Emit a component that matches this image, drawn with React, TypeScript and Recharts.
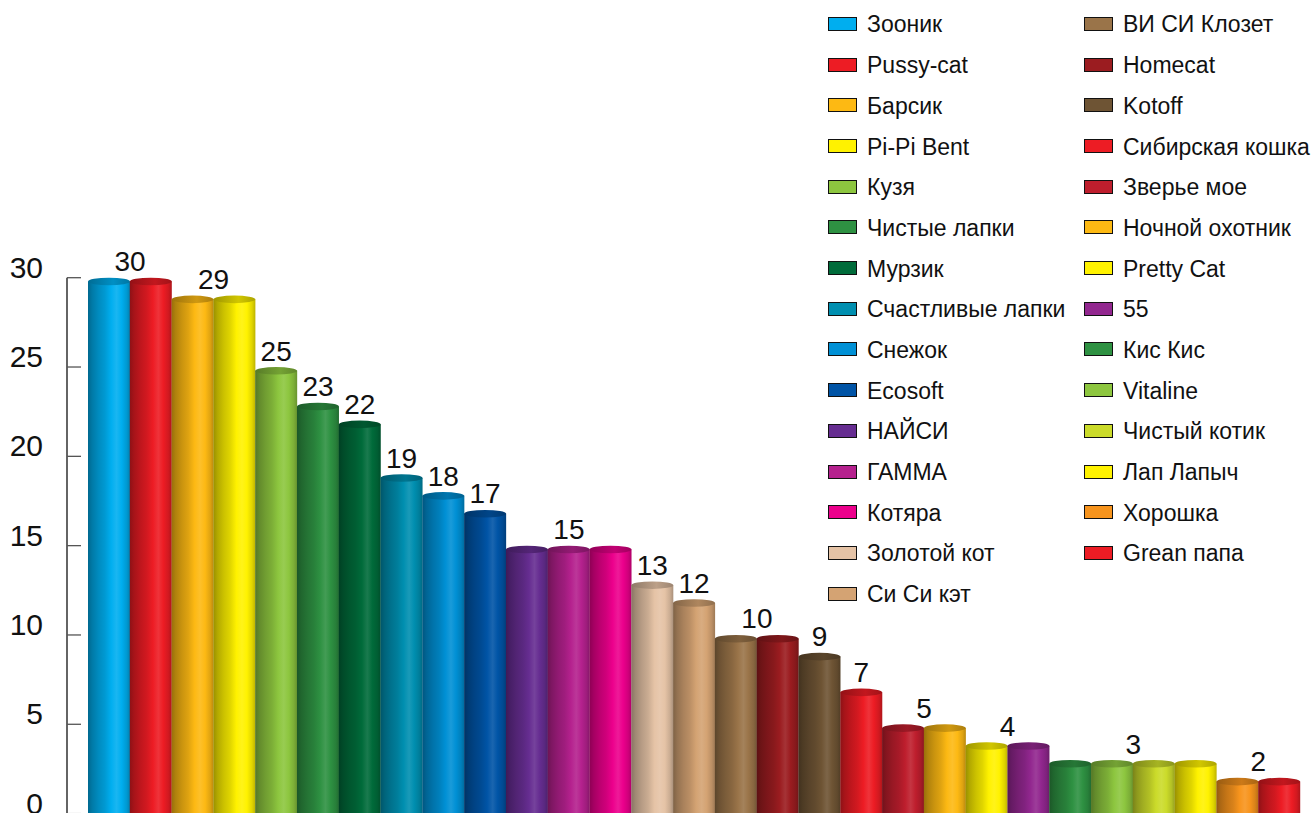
import React from 'react';
import { BarChart, Bar, XAxis, YAxis, LabelList } from 'recharts';

// brands, in bar order (left column of legend first, then right column)
const brands = [
  'Зооник', 'Pussy-cat', 'Барсик', 'Pi-Pi Bent', 'Кузя', 'Чистые лапки', 'Мурзик',
  'Счастливые лапки', 'Снежок', 'Ecosoft', 'НАЙСИ', 'ГАММА', 'Котяра', 'Золотой кот',
  'Си Си кэт', 'ВИ СИ Клозет', 'Homecat', 'Kotoff', 'Сибирская кошка', 'Зверье мое',
  'Ночной охотник', 'Pretty Cat', '55', 'Кис Кис', 'Vitaline', 'Чистый котик',
  'Лап Лапыч', 'Хорошка', 'Grean папа',
];

const shares = [30, 30, 29, 29, 25, 23, 22, 19, 18, 17, 15, 15, 15, 13, 12, 10, 10, 9, 7, 5, 5, 4, 4, 3, 3, 3, 3, 2, 2];

const colors = [
  '#00aeef', '#ed1c24', '#fdb913', '#fff200', '#8dc63f', '#2e9142', '#006b3a',
  '#008fb0', '#0090d5', '#0054a6', '#662d91', '#b5218e', '#ec008c', '#e5c3a6',
  '#d4a373', '#9a7449', '#9b1c20', '#6e5434', '#ed1c24', '#be1e2d',
  '#fdb913', '#fff200', '#92278f', '#2e9142', '#8dc63f', '#cbdb2a',
  '#fff200', '#f7941d', '#ed1c24',
];

const yTicks = [0, 5, 10, 15, 20, 25, 30];

const data = brands.map((name, i) => ({ name, value: shares[i], color: colors[i] }));

const FONT = '"Liberation Sans", Arial, Helvetica, sans-serif';

function mix(hex: string, k: number) {
  // k < 1 darkens towards black, k > 1 lightens towards white
  const n = parseInt(hex.slice(1), 16);
  let r = (n >> 16) & 255, g = (n >> 8) & 255, b = n & 255;
  if (k <= 1) {
    r *= k; g *= k; b *= k;
  } else {
    const t = k - 1;
    r += (255 - r) * t; g += (255 - g) * t; b += (255 - b) * t;
  }
  const h = (v: number) => Math.round(Math.max(0, Math.min(255, v))).toString(16).padStart(2, '0');
  return '#' + h(r) + h(g) + h(b);
}

const stops: [number, number][] = [
  [0, 0.6], [0.1, 0.7], [0.25, 0.8], [0.4, 0.88], [0.55, 1],
  [0.68, 1.1], [0.8, 1], [0.92, 0.88], [1, 0.74],
];

function Cylinder(props: any) {
  const { x, y, width, height, index } = props;
  if (!height || height <= 0) return null;
  const color = props.payload?.color ?? colors[index];
  const id = 'cyl' + index;
  const ry = 3.8;
  return (
    <g>
      <defs>
        <linearGradient id={id} x1="0" y1="0" x2="1" y2="0">
          {stops.map(([o, k]) => (
            <stop key={o} offset={o} stopColor={mix(color, k)} />
          ))}
        </linearGradient>
        <linearGradient id={id + 't'} x1="0" y1="0" x2="1" y2="0">
          <stop offset={0} stopColor={mix(color, 0.62)} />
          <stop offset={0.6} stopColor={mix(color, 0.82)} />
          <stop offset={1} stopColor={mix(color, 0.68)} />
        </linearGradient>
      </defs>
      <rect x={x} y={y + ry} width={width} height={height - ry + 20} fill={`url(#${id})`} />
      <ellipse cx={x + width / 2} cy={y + ry} rx={width / 2} ry={ry} fill={`url(#${id}t)`} />
    </g>
  );
}

function GroupLabel(props: any) {
  const { x, y, width, value, index } = props;
  if (index > 0 && shares[index - 1] === shares[index]) return null;
  let n = 1;
  while (index + n < shares.length && shares[index + n] === shares[index]) n++;
  return (
    <text x={x + (width * n) / 2} y={y - 6.5} textAnchor="middle" fontSize={28} fill="#111" fontFamily={FONT}>
      {value}
    </text>
  );
}

function YTick(props: any) {
  const { x, y, payload } = props;
  const axisX = x + 24;
  return (
    <g>
      <line x1={axisX} x2={axisX + 14} y1={y} y2={y} stroke="#555" strokeWidth={1.3} />
      <text x={x} y={y} textAnchor="end" fontSize={30} fill="#111" fontFamily={FONT}>
        {payload.value}
      </text>
    </g>
  );
}

function LegendBlock() {
  return (
    <div
      style={{
        position: 'absolute',
        left: 828,
        top: 4.6,
        display: 'grid',
        gridAutoFlow: 'column',
        gridTemplateRows: 'repeat(15, 40.7px)',
        gridTemplateColumns: '256px auto',
        fontFamily: FONT,
        fontSize: 23,
        color: '#111',
      }}
    >
      {brands.map((b, i) => (
        <div key={b + i} style={{ display: 'flex', alignItems: 'center', whiteSpace: 'nowrap' }}>
          <span
            style={{
              display: 'inline-block',
              width: 27,
              height: 12,
              background: colors[i],
              border: '1.5px solid #111',
              marginRight: 10,
              marginTop: -2,
            }}
          />
          <span>{b}</span>
        </div>
      ))}
    </div>
  );
}

export default function App() {
  return (
    <div style={{ position: 'absolute', left: 0, top: 0, width: 1316, height: 813, overflow: 'hidden', background: '#fff' }}>
      <BarChart
        width={1316}
        height={830}
        data={data}
        margin={{ top: 277.7, right: 16, bottom: 16.4, left: 0 }}
        barCategoryGap={0}
        barGap={0}
      >
        <XAxis dataKey="name" hide padding={{ left: 21, right: 0 }} />
        <YAxis
          width={67}
          domain={[0, 30]}
          ticks={yTicks}
          interval={0}
          tickSize={0}
          tickMargin={24}
          tickLine={false}
          axisLine={{ stroke: '#111', strokeWidth: 1.3 }}
          tick={<YTick />}
        />
        <Bar dataKey="value" isAnimationActive={false} shape={<Cylinder />}>
          <LabelList dataKey="value" content={<GroupLabel />} />
        </Bar>
      </BarChart>
      <LegendBlock />
    </div>
  );
}
